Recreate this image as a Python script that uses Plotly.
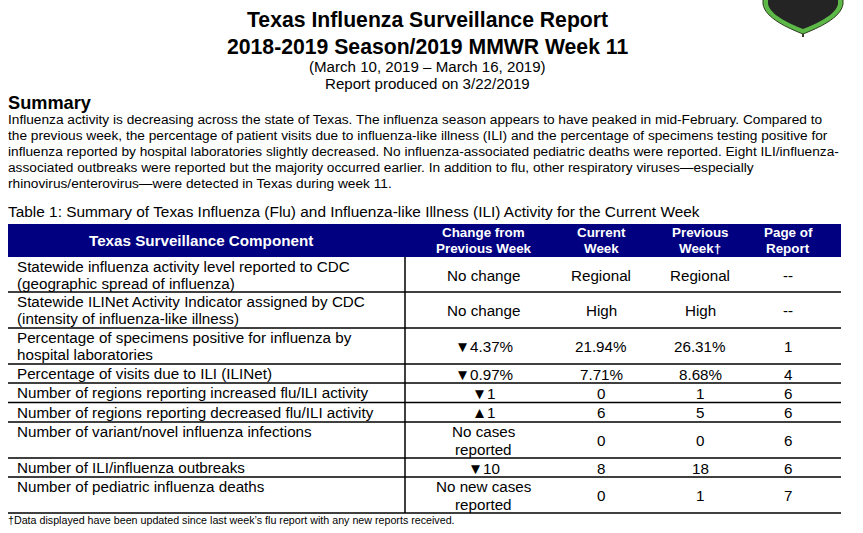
import plotly.graph_objects as go
import numpy as np

# report text
title_lines = ["Texas Influenza Surveillance Report", "2018-2019 Season/2019 MMWR Week 11"]
subtitle_lines = ["(March 10, 2019 \u2013 March 16, 2019)", "Report produced on 3/22/2019"]
summary_lines = [
    "Influenza activity is decreasing across the state of Texas. The influenza season appears to have peaked in mid-February. Compared to",
    "the previous week, the percentage of patient visits due to influenza-like illness (ILI) and the percentage of specimens testing positive for",
    "influenza reported by hospital laboratories slightly decreased. No influenza-associated pediatric deaths were reported. Eight ILI/influenza-",
    "associated outbreaks were reported but the majority occurred earlier. In addition to flu, other respiratory viruses\u2014especially",
    "rhinovirus/enterovirus\u2014were detected in Texas during week 11.",
]
caption = "Table 1: Summary of Texas Influenza (Flu) and Influenza-like Illness (ILI) Activity for the Current Week"
footnote = "\u2020Data displayed have been updated since last week\u2019s flu report with any new reports received."

# table data
headers = ["Texas Surveillance Component", "Change from<br>Previous Week", "Current<br>Week",
           "Previous<br>Week\u2020", "Page of<br>Report"]
components = [
    "Statewide influenza activity level reported to CDC<br>(geographic spread of influenza)",
    "Statewide ILINet Activity Indicator assigned by CDC<br>(intensity of influenza-like illness)",
    "Percentage of specimens positive for influenza by<br>hospital laboratories",
    "Percentage of visits due to ILI (ILINet)",
    "Number of regions reporting increased flu/ILI activity",
    "Number of regions reporting decreased flu/ILI activity",
    "Number of variant/novel influenza infections",
    "Number of ILI/influenza outbreaks",
    "Number of pediatric influenza deaths",
]
change = ["No change", "No change", "\u25bc4.37%", "\u25bc0.97%", "\u25bc1", "\u25b21",
          "No cases<br>reported", "\u25bc10", "No new cases<br>reported"]
current_week = ["Regional", "High", "21.94%", "7.71%", "0", "6", "0", "8", "0"]
previous_week = ["Regional", "High", "26.31%", "8.68%", "1", "5", "0", "18", "1"]
page = ["--", "--", "1", "4", "6", "6", "6", "6", "7"]

# layout (pixels)
W, H = 863, 533
FONT = "Liberation Sans, Arial, sans-serif"
NAVY = "#000080"
tbl_left, tbl_right = 8, 841
head_top, head_bot = 224, 257
row_h = [35, 36, 36, 19, 19.5, 19.5, 36, 19, 36]
col_x = [200.5, 483.5, 601, 700, 788]
divider_x = 405
body_size, body_gap = 15.2, 17.4

row_edges = head_bot + np.concatenate([[0], np.cumsum(row_h)])
row_mid = (row_edges[:-1] + row_edges[1:]) / 2

ann = []


def text(x, y, s, size, anchor="left", color="black"):
    ann.append(dict(x=x, y=y, text=s, xanchor=anchor, yanchor="middle", showarrow=False,
                    borderpad=0, font=dict(family=FONT, size=size, color=color)))


# component column: top aligned
for top, label in zip(row_edges[:-1], components):
    for k, line in enumerate(label.split("<br>")):
        text(16, top + 9.5 + k * body_gap, line, body_size)

# value columns: centred in each cell
for xc, col in zip(col_x[1:], [change, current_week, previous_week, page]):
    for mid, cell in zip(row_mid, col):
        lines = cell.split("<br>")
        off = (len(lines) - 1) * body_gap / 2
        for k, line in enumerate(lines):
            text(xc, mid - off + k * body_gap + 0.5, line, body_size, "center")

# header labels
for i, (xc, h) in enumerate(zip(col_x, headers)):
    lines = h.split("<br>")
    off = (len(lines) - 1) * 16.4 / 2
    for k, line in enumerate(lines):
        text(xc, 240.3 - off + k * 16.4, "<b>" + line + "</b>", 15.2 if i == 0 else 13.4,
             "center", "white")

# titles and summary
for i, t in enumerate(title_lines):
    text(427.5, 19.7 + 26.3 * i, "<b>" + t + "</b>", 21.2, "center")
for i, t in enumerate(subtitle_lines):
    text(427, 66 + 17 * i, t, 15.1, "center")
text(7, 102.5, "<b>Summary</b>", 18.2)
for i, t in enumerate(summary_lines):
    text(7, 119.5 + 15.9 * i, t, 13.7)
text(7, 211.5, caption, 15.4)
text(7, 520, footnote, 10.7)

shapes = [dict(type="rect", x0=tbl_left, x1=tbl_right, y0=head_top, y1=head_bot,
               fillcolor=NAVY, line=dict(width=0), layer="below")]
for y in row_edges[1:]:
    shapes.append(dict(type="line", x0=tbl_left, x1=tbl_right, y0=y, y1=y,
                       line=dict(color="black", width=1.5)))
shapes.append(dict(type="line", x0=divider_x, x1=divider_x, y0=head_bot, y1=row_edges[-1],
                   line=dict(color="black", width=1.5)))
# shield logo, cut at the top edge
shapes.append(dict(type="path", path="M 763 -2 L 763 4 C 765 18, 788 28, 803 34 C 818 28, 841 18, 843 4 L 843 -2 Z",
                   fillcolor="#5cb947", line=dict(color="#2c3a1f", width=1)))
shapes.append(dict(type="path", path="M 768 -2 L 768 4 C 770 15, 790 24, 803 29 C 816 24, 836 15, 838 4 L 838 -2 Z",
                   fillcolor="#242424", line=dict(width=0)))
shapes.append(dict(type="line", x0=803, x1=803, y0=34, y1=37, line=dict(color="#3a3a2a", width=2)))

fig = go.Figure()
fig.update_layout(
    width=W, height=H,
    margin=dict(l=0, r=0, t=0, b=0),
    paper_bgcolor="white", plot_bgcolor="white",
    xaxis=dict(range=[0, W], visible=False, fixedrange=True),
    yaxis=dict(range=[H, 0], visible=False, fixedrange=True),
    annotations=ann, shapes=shapes,
)

# drop the default page margin so the figure fills the window
fig.write_html("out.html", config={"displayModeBar": False},
               post_script="document.body.style.margin = '0';")
